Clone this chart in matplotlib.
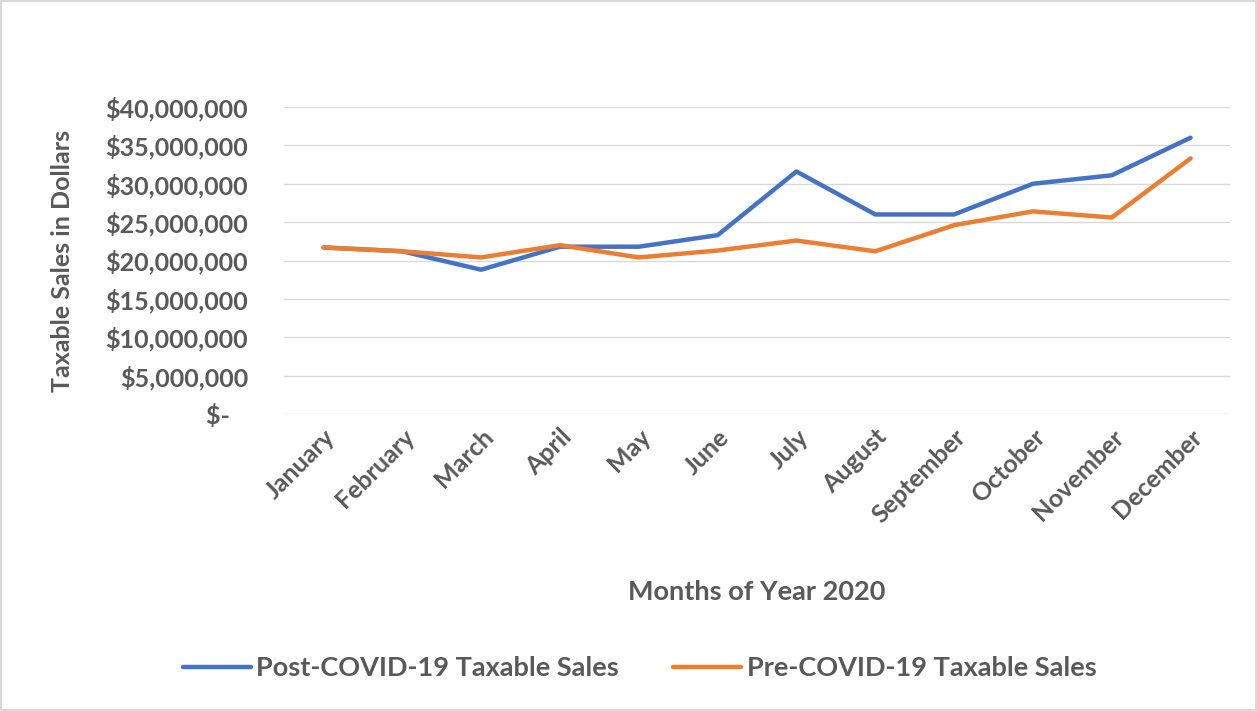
import matplotlib
matplotlib.use("Agg")
import matplotlib.pyplot as plt
from matplotlib.ticker import FuncFormatter

months = ["January", "February", "March", "April", "May", "June", "July",
          "August", "September", "October", "November", "December"]
# taxable sales, millions of dollars
post_covid = [21.7, 21.2, 18.8, 21.8, 21.8, 23.3, 31.6, 26.0, 26.0, 30.0, 31.1, 36.0]
pre_covid = [21.7, 21.2, 20.4, 22.0, 20.4, 21.3, 22.6, 21.2, 24.6, 26.4, 25.6, 33.3]

grey = "#595959"
plt.rcParams["font.family"] = ["Lato", "DejaVu Sans"]
fs = 18

fig = plt.figure(figsize=(12.57, 7.11), dpi=100)
fig.patch.set_edgecolor("#d9d9d9")
fig.patch.set_linewidth(1.5)
ax = fig.add_axes([0.226, 0.4177, 0.7525, 0.4318])

x = range(len(months))
ax.plot(x, [v * 1e6 for v in post_covid], color="#4472C4", lw=3.2,
        label="Post-COVID-19 Taxable Sales", solid_capstyle="round")
ax.plot(x, [v * 1e6 for v in pre_covid], color="#ED7D31", lw=3.2,
        label="Pre-COVID-19 Taxable Sales", solid_capstyle="round")

ax.set_xlim(-0.5, 11.5)
ax.set_ylim(0, 40e6)
ax.set_yticks([i * 5e6 for i in range(9)])


def money(v, pos):
    if v == 0:
        return "$-   "
    return "${:,.0f}".format(v)


ax.yaxis.set_major_formatter(FuncFormatter(money))
ax.set_xticks(list(x))
ax.set_xticklabels(months, rotation=45, ha="right", va="top",
                   rotation_mode="anchor")
ax.tick_params(axis="both", length=0, colors=grey, labelsize=fs)
ax.tick_params(axis="y", pad=26)
ax.tick_params(axis="x", pad=8)
for lab in ax.get_yticklabels() + ax.get_xticklabels():
    lab.set_fontweight("bold")

ax.grid(axis="y", color="#d9d9d9", lw=1)
ax.set_axisbelow(True)
for s in ax.spines.values():
    s.set_visible(False)

ax.set_xlabel("Months of Year 2020", color=grey, fontsize=19.5, fontweight="bold")
ax.xaxis.set_label_coords(0.5, -0.54)
ax.set_ylabel("Taxable Sales in Dollars", color=grey, fontsize=fs,
              fontweight="bold")
ax.yaxis.set_label_coords(-0.222, 0.5)

leg = fig.legend(loc="center", bbox_to_anchor=(0.509, 0.06), ncol=2,
                 frameon=False, fontsize=19.5, handlelength=2.5,
                 handletextpad=0.2, columnspacing=2.0)
for t in leg.get_texts():
    t.set_color(grey)
    t.set_fontweight("bold")

fig.savefig("out.png", dpi=100)
